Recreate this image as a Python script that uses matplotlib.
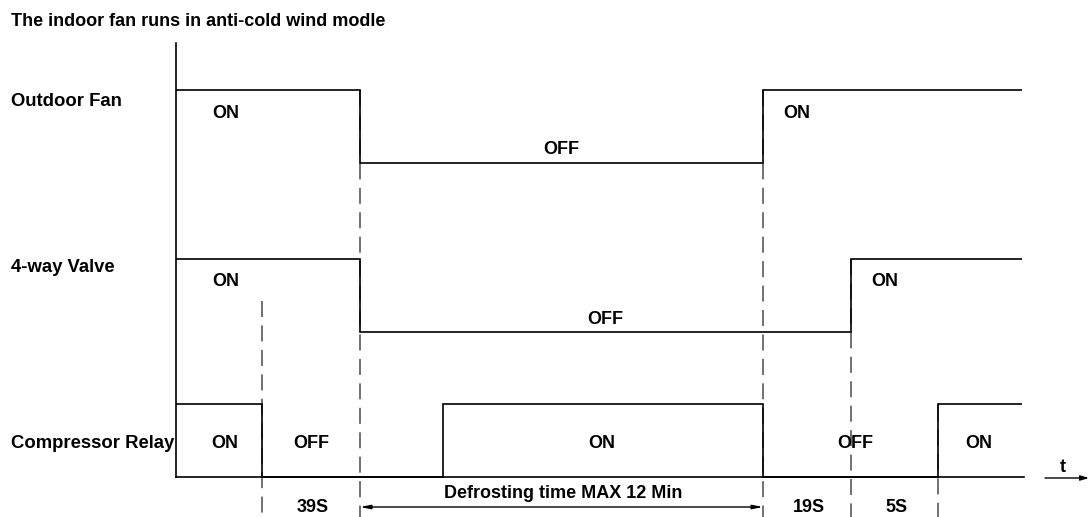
import matplotlib
matplotlib.use("Agg")
import matplotlib.pyplot as plt

plt.rcParams["font.family"] = ["Liberation Sans", "DejaVu Sans"]
plt.rcParams["font.weight"] = "bold"

# timing data (time units, 0 = start of trace)
t_end = 846
fan_times = [0, 184, 587, t_end]
fan_states = [1, 0, 1]
fan_labels = ["ON", "OFF", "ON"]

valve_times = [0, 184, 675, t_end]
valve_states = [1, 0, 1]
valve_labels = ["ON", "OFF", "ON"]

comp_times = [0, 86, 267, 587, 762, t_end]
comp_states = [1, 0, 1, 0, 1]
comp_labels = ["ON", "OFF", "ON", "OFF", "ON"]
comp_label_x = [49, 135, 426, 679, 803]

row_names = ["Outdoor Fan", "4-way Valve", "Compressor Relay"]
title = "The indoor fan runs in anti-cold wind modle"

# interval annotations below the time axis
span_texts = ["39S", "19S", "5S"]
span_edges = [(86, 184), (587, 675), (675, 762)]
defrost_text = "Defrosting time MAX 12 Min"
defrost_edges = (184, 587)

# layout (pixel-like coordinates)
W, H = 1089, 517
x0 = 176
row_base = [163, 332, 477]
amp = 73
fs = 13

fig = plt.figure(figsize=(W / 100, H / 100), dpi=100)
ax = fig.add_axes([0, 0, 1, 1])
ax.set_xlim(-x0, W - x0)
ax.set_ylim(H, 0)
ax.axis("off")

# dashed guide lines at transitions
guides = [(86, 301), (184, 90), (587, 90), (675, 259), (762, 405)]
for gx, gtop in guides:
    ax.plot([gx, gx], [gtop, H], color="#4a4a4a", lw=1.1, ls=(0, (10.5, 5.5)), zorder=1)

# axes
ax.plot([0, 0], [43, row_base[2]], color="black", lw=1.2, zorder=3)
ax.plot([0, 848], [row_base[2], row_base[2]], color="black", lw=1.2, zorder=3)

rows = [(fan_times, fan_states, fan_labels),
        (valve_times, valve_states, valve_labels),
        (comp_times, comp_states, comp_labels)]

for i, (times, states, labels) in enumerate(rows):
    base = row_base[i]
    levels = [base - s * amp for s in states]
    ax.stairs(levels, times, baseline=None, color="black", lw=1.2, zorder=3)
    for j, lab in enumerate(labels):
        a, b = times[j], times[j + 1]
        if i == 2:
            cx, cy = comp_label_x[j], base - 34
        else:
            if j == 0:
                cx = 50
            elif j == len(labels) - 1:
                cx = a + 34
            else:
                cx = (a + b) / 2
            cy = base - amp + 23 if states[j] == 1 else base - 13
        ax.text(cx, cy, lab, ha="center", va="center", fontsize=fs, fontweight="bold")

# row names
name_y = [101, 268, 444]
for name, ny in zip(row_names, name_y):
    ax.text(11 - x0, ny, name, ha="left", va="center", fontsize=fs + 0.3, fontweight="bold")

ax.text(11 - x0, 22, title, ha="left", va="center", fontsize=fs, fontweight="bold")

# time arrow
ax.annotate("", xy=(W - x0, 478), xytext=(1045 - x0, 478),
            arrowprops=dict(arrowstyle="-|>,head_length=0.5,head_width=0.15", color="black", lw=1.0,
                            shrinkA=0, shrinkB=0))
ax.text(1063 - x0, 467, "t", ha="center", va="center", fontsize=fs, fontweight="bold")

# interval texts
for txt, (a, b) in zip(span_texts, span_edges):
    ax.text((a + b) / 2 + 2, 508, txt, ha="center", va="center", fontsize=fs, fontweight="bold")

ax.annotate("", xy=(defrost_edges[0], 507), xytext=(defrost_edges[1], 507),
            arrowprops=dict(arrowstyle="<|-|>,head_length=0.6,head_width=0.12", color="black", lw=1.0,
                            shrinkA=0, shrinkB=0))
ax.text(sum(defrost_edges) / 2 + 2, 493, defrost_text, ha="center", va="center",
        fontsize=fs, fontweight="bold")

fig.savefig("out.png", dpi=100, facecolor="white")
